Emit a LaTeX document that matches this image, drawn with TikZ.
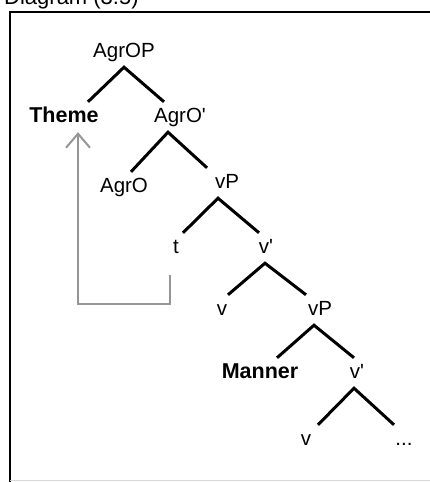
\documentclass[tikz,border=0pt]{standalone}
\usepackage{fontspec}
\setmainfont{Liberation Sans}
\usetikzlibrary{arrows.meta}
\definecolor{arrgray}{RGB}{150,150,150}
\definecolor{framegray}{RGB}{215,215,215}
\begin{document}
\begin{tikzpicture}[x=1pt,y=-1pt,
  lbl/.style={inner sep=0pt, inner ysep=6pt, text height=14pt, text depth=4pt, anchor=base,
              font=\fontsize{20.5}{22}\selectfont},
  blbl/.style={lbl, font=\fontsize{21.5}{23}\selectfont\bfseries},
  tl/.style={line width=3pt, black},
  garrow/.style={draw=arrgray, line width=2pt, -{Straight Barb[length=14pt,width=24pt]}},
  frame/.style={line width=2.5pt, black}]
\useasboundingbox (0,0) rectangle (430,482);
% title (cut off at top)
\node[anchor=base west, inner sep=0pt, font=\fontsize{22}{24}\selectfont] (title) at (4,4) {Diagram (3.5)};
% frame
\draw[frame] (430,12) -- (10,12) -- (10,482);
\draw[framegray, line width=1pt] (10,480) -- (430,480);
% nodes
\node[lbl]  (AgrOP)  at (124,57)  {AgrOP};
\node[blbl] (Theme)  at (64,122)  {Theme};
\node[lbl]  (AgrOb)  at (180,122) {AgrO\textquotesingle};
\node[lbl]  (AgrO)   at (124,192) {AgrO};
\node[lbl]  (vPa)    at (227,188) {vP};
\node[lbl]  (t)      at (176,253) {t};
\node[lbl]  (vba)    at (266,253) {v\textquotesingle};
\node[lbl]  (va)     at (222,315) {v};
\node[lbl]  (vPb)    at (320,315) {vP};
\node[blbl] (Manner) at (260,378) {Manner};
\node[lbl]  (vbb)    at (357,378) {v\textquotesingle};
\node[lbl]  (vb)     at (306,445) {v};
\node[lbl]  (dots)   at (404,445) {...};
% branches
\draw[tl] ([xshift=24pt]Theme.north) -- (AgrOP.south) -- ([xshift=-16pt]AgrOb.north);
\draw[tl] ([xshift=7pt]AgrO.north) -- ([xshift=-12pt]AgrOb.south) -- ([xshift=-20pt]vPa.north);
\draw[tl] ([xshift=7pt]t.north) -- ([xshift=-9pt]vPa.south) -- ([xshift=-7pt]vba.north);
\draw[tl] ([xshift=6pt]va.north) -- ([xshift=-1pt]vba.south) -- ([xshift=-14pt]vPb.north);
\draw[tl] ([xshift=17pt]Manner.north) -- ([xshift=-6pt]vPb.south) -- ([xshift=-3pt]vbb.north);
\draw[tl] ([xshift=12pt]vb.north) -- ([xshift=-3pt]vbb.south) -- ([xshift=-10pt]dots.north);
% movement arrow
\draw[garrow] ([xshift=-6pt,yshift=-12pt]t.south) -- ++(0,29) -| ([xshift=14pt]Theme.south);
\end{tikzpicture}
\end{document}
